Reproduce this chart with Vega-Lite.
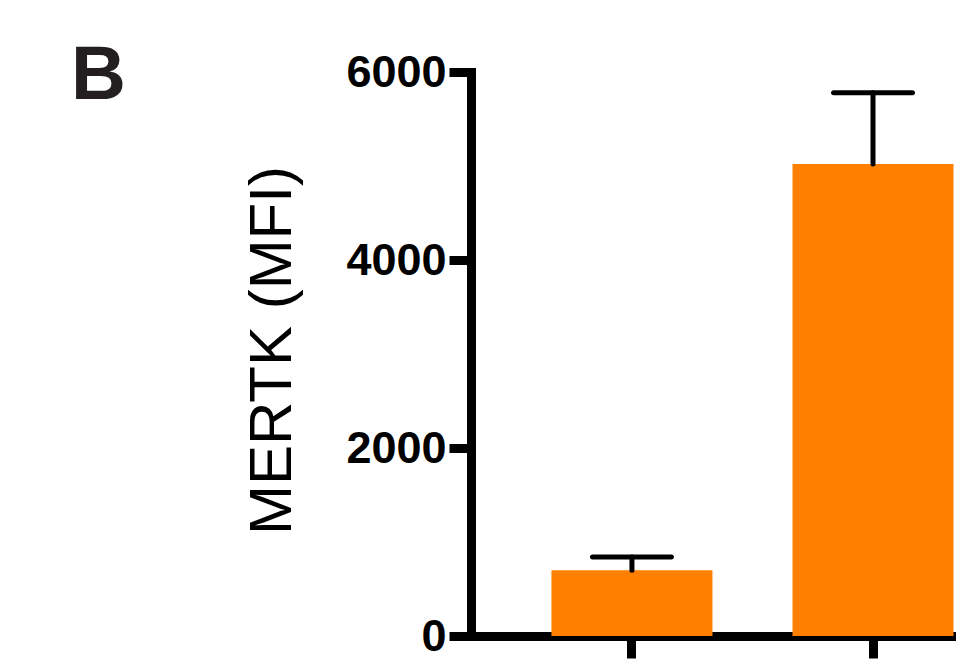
{
  "$schema": "https://vega.github.io/schema/vega-lite/v6.json",
  "width": 485,
  "height": 564,
  "autosize": {"type": "none"},
  "padding": {"left": 471, "top": 72, "right": 0, "bottom": 34},
  "background": "white",
  "title": {
    "text": "B",
    "anchor": "start",
    "frame": "group",
    "font": "Liberation Sans",
    "fontSize": 76,
    "fontWeight": "bold",
    "color": "#231f20",
    "baseline": "alphabetic",
    "offset": 0,
    "dx": -400,
    "dy": 125
  },
  "config": {
    "view": {"stroke": null},
    "axis": {
      "grid": false,
      "domainColor": "black",
      "domainWidth": 9,
      "domainCap": "square",
      "tickColor": "black",
      "tickWidth": 9,
      "tickSize": 22,
      "zindex": 1
    }
  },
  "data": {
    "values": [
      {"group": "Group 1", "mfi": 700, "upper": 840},
      {"group": "Group 2", "mfi": 5020, "upper": 5780}
    ]
  },
  "encoding": {
    "x": {
      "field": "group",
      "type": "nominal",
      "sort": null,
      "scale": {"paddingInner": 0.332, "paddingOuter": 0.172, "align": 0.97},
      "axis": {"title": null, "labels": false}
    }
  },
  "layer": [
    {
      "mark": {"type": "bar", "color": "#ff8000"},
      "encoding": {
        "y": {
          "field": "mfi",
          "type": "quantitative",
          "scale": {"domain": [0, 6000], "nice": false},
          "axis": {
            "values": [0, 2000, 4000, 6000],
            "title": "MERTK (MFI)",
            "titleFont": "Liberation Sans",
            "titleFontSize": 60,
            "titleFontWeight": "normal",
            "titleColor": "black",
            "titleAngle": -90,
            "titleAlign": "center",
            "titleBaseline": "alphabetic",
            "titleX": -181,
            "titleY": 278,
            "labelFont": "Liberation Sans",
            "labelFontSize": 45,
            "labelFontWeight": "bold",
            "labelColor": "black",
            "labelPadding": 3,
            "format": "d"
          }
        }
      }
    },
    {
      "mark": {"type": "rule", "color": "black", "strokeWidth": 5, "strokeCap": "round"},
      "encoding": {
        "y": {"field": "mfi", "type": "quantitative"},
        "y2": {"field": "upper"}
      }
    },
    {
      "mark": {"type": "tick", "color": "black", "thickness": 5, "size": 84, "cornerRadius": 2.5, "opacity": 1},
      "encoding": {
        "y": {"field": "upper", "type": "quantitative"}
      }
    }
  ]
}
